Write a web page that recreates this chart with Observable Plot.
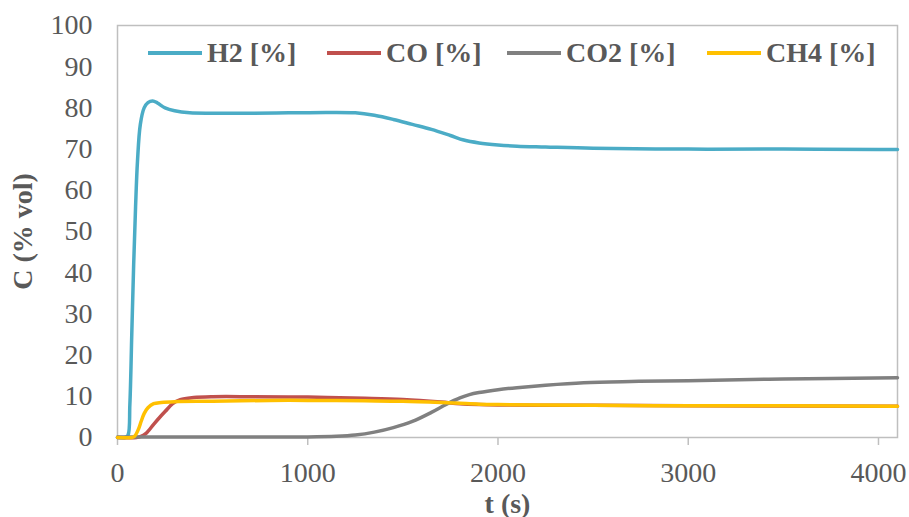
<!DOCTYPE html>
<html>
<head>
<meta charset="utf-8">
<script src="https://cdn.jsdelivr.net/npm/d3@7"></script>
<script src="https://cdn.jsdelivr.net/npm/@observablehq/plot@0.6"></script>
<style>
  html, body { margin: 0; padding: 0; background: #fff; }
  #wrap { position: relative; width: 909px; height: 517px; font-family: "Liberation Serif", "Times New Roman", serif; }
  #wrap svg { font-family: "Liberation Serif", "Times New Roman", serif; }
  g[aria-label="x-axis label"] text, g[aria-label="y-axis label"] text { font-weight: bold; }
  .legend { position: absolute; top: 33px; left: 0; width: 909px; height: 40px; }
  .item { position: absolute; top: 0; display: flex; align-items: center; height: 40px; }
  .swatch { width: 54px; height: 4px; margin-right: 5px; }
  .lab { font-weight: bold; font-size: 28px; color: #595959; white-space: nowrap; line-height: 40px; }
</style>
</head>
<body>
<div id="wrap"></div>
<script>
// ---- data ----
const seriesNames = ["H2 [%]", "CO [%]", "CO2 [%]", "CH4 [%]"];
const seriesColors = ["#4BACC6", "#C0504D", "#808080", "#FFC000"];

const h2T = [0, 40, 55, 65, 75, 85, 95, 105, 120, 140, 160, 185, 210, 250, 300, 380, 500, 700, 900, 1100, 1250, 1350, 1450, 1550, 1650, 1750, 1820, 1900, 2000, 2100, 2250, 2500, 3000, 3500, 4000, 4100];
const h2V = [0, 0, 0.5, 8, 25, 42, 56, 67, 76, 80, 81.3, 81.7, 81.2, 80, 79.3, 78.8, 78.7, 78.7, 78.8, 78.9, 78.8, 78.2, 77.2, 76.0, 74.8, 73.3, 72.2, 71.5, 71.0, 70.7, 70.5, 70.2, 70.0, 70.0, 69.9, 69.9];

const coT = [0, 100, 120, 150, 190, 220, 250, 290, 330, 400, 500, 700, 1000, 1300, 1500, 1700, 1800, 1900, 2000, 2200, 2500, 3000, 4100];
const coV = [0, 0, 0.2, 1.0, 3.2, 4.8, 6.3, 8.2, 9.2, 9.7, 9.9, 9.9, 9.8, 9.5, 9.2, 8.6, 8.2, 8.0, 7.9, 7.8, 7.8, 7.7, 7.6];

const co2T = [0, 500, 1000, 1150, 1250, 1350, 1450, 1550, 1650, 1730, 1800, 1850, 1900, 2000, 2100, 2250, 2450, 2700, 3000, 3500, 4100];
const co2V = [0.1, 0.1, 0.15, 0.3, 0.6, 1.3, 2.4, 3.9, 6.1, 8.1, 9.6, 10.4, 10.9, 11.6, 12.1, 12.7, 13.3, 13.6, 13.8, 14.2, 14.5];

const ch4T = [0, 75, 90, 110, 125, 140, 160, 190, 230, 300, 500, 800, 1000, 1300, 1500, 1700, 1800, 1900, 2000, 2200, 2500, 3000, 3500, 4100];
const ch4V = [0, 0, 0.3, 2, 4, 5.8, 7.2, 8.2, 8.5, 8.7, 8.8, 9.0, 9.0, 8.9, 8.8, 8.5, 8.3, 8.1, 8.0, 7.9, 7.8, 7.7, 7.7, 7.6];

const xTicks = [0, 1000, 2000, 3000, 4000];
const yTicks = [0, 10, 20, 30, 40, 50, 60, 70, 80, 90, 100];

// ---- build table ----
const allT = [h2T, coT, co2T, ch4T];
const allV = [h2V, coV, co2V, ch4V];
const rows = [];
seriesNames.forEach((name, i) => {
  allT[i].forEach((t, j) => rows.push({series: name, t, v: allV[i][j]}));
});

const textColor = "#595959";
const gridColor = "#BFBFBF";

const chart = Plot.plot({
  width: 909,
  height: 517,
  marginLeft: 117,
  marginRight: 12,
  marginTop: 25,
  marginBottom: 80,
  style: {fontSize: "28px", color: textColor, background: "#fff", fontFamily: "'Liberation Serif', 'Times New Roman', serif"},
  x: {domain: [0, 4100]},
  y: {domain: [0, 100]},
  color: {domain: seriesNames, range: seriesColors},
  marks: [
    Plot.frame({stroke: gridColor, strokeWidth: 1.5}),
    Plot.axisX({ticks: xTicks, tickSize: 8, tickPadding: 17, stroke: gridColor, strokeWidth: 1.5, fill: textColor,
      label: "t (s)", labelArrow: "none", labelAnchor: "center", labelOffset: 75, tickFormat: d => String(d)}),
    Plot.axisY({ticks: yTicks, tickSize: 0, tickPadding: 25, fill: textColor,
      label: "C (% vol)", labelArrow: "none", labelAnchor: "center", labelOffset: 105, tickFormat: d => String(d)}),
    Plot.line(rows, {x: "t", y: "v", z: "series", stroke: "series", strokeWidth: 3.5,
      curve: "catmull-rom", strokeLinecap: "round", strokeLinejoin: "round"})
  ]
});

const wrap = document.getElementById("wrap");
wrap.appendChild(chart);

// legend (HTML overlay inside the plot frame)
const legendLeft = [148, 327, 507, 707];
const legend = document.createElement("div");
legend.className = "legend";
seriesNames.forEach((name, i) => {
  const item = document.createElement("div");
  item.className = "item";
  item.style.left = legendLeft[i] + "px";
  const sw = document.createElement("div");
  sw.className = "swatch";
  sw.style.background = seriesColors[i];
  const lab = document.createElement("span");
  lab.className = "lab";
  lab.textContent = name;
  item.appendChild(sw);
  item.appendChild(lab);
  legend.appendChild(item);
});
wrap.appendChild(legend);
</script>
</body>
</html>
